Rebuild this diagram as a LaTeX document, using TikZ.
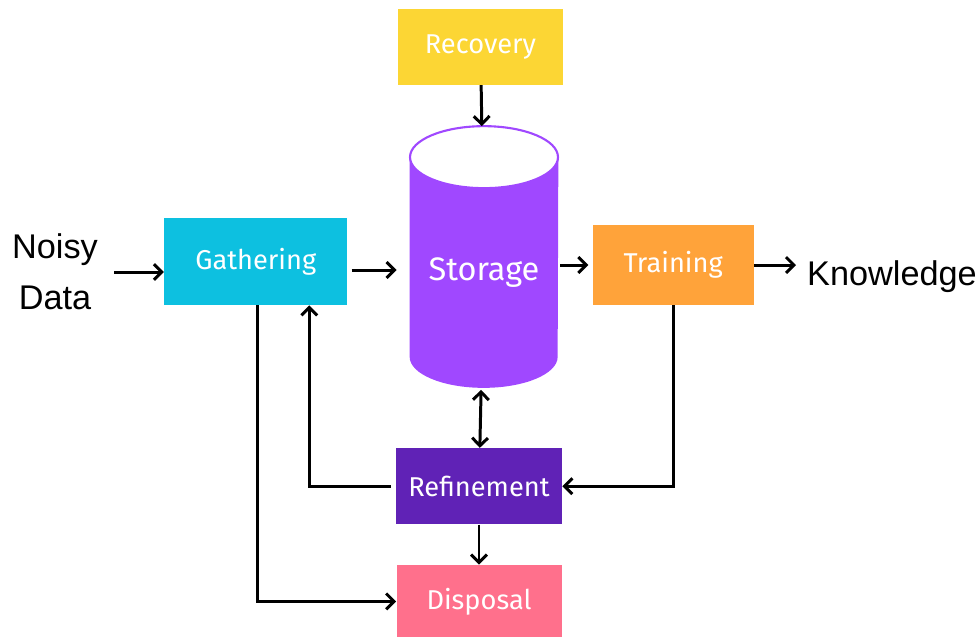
\documentclass[tikz,border=0pt]{standalone}
\usepackage{fontspec}
\setmainfont{Liberation Sans}
\newfontfamily\stagefont{Fira Sans}
\usetikzlibrary{arrows.meta, positioning, backgrounds}
\definecolor{recoveryyellow}{RGB}{252,214,52}
\definecolor{gatheringcyan}{RGB}{13,192,224}
\definecolor{storagepurple}{RGB}{160,72,255}
\definecolor{trainingorange}{RGB}{255,163,58}
\definecolor{refinementviolet}{RGB}{96,34,182}
\definecolor{disposalpink}{RGB}{255,112,140}
\tikzset{
  stage/.style={rectangle, draw=none, minimum height=1.52cm, text=white,
                font=\stagefont\fontsize{15.5}{18}\selectfont},
  storagebox/.style={rectangle, draw=none, minimum width=2.96cm, minimum height=5.22cm,
                     text height=1.05cm, text depth=0.1cm,
                     text=white, font=\stagefont\fontsize{18.5}{22}\selectfont},
  outer/.style={align=center, font=\fontsize{19.5}{29}\selectfont},
  arrow/.style={-{Straight Barb[length=4.5pt, width=9pt]}, line width=1.7pt},
  darrow/.style={{Straight Barb[length=4.5pt, width=9pt]}-{Straight Barb[length=4.5pt, width=9pt]}, line width=1.7pt},
}

\begin{document}
\begin{tikzpicture}
  \useasboundingbox (0,0) rectangle (19.56,-12.72);

  % Central store
  \node[storagebox] (storage) at (9.68,-5.14) {Storage};
  \begin{scope}[on background layer]
    \fill[storagepurple] ([yshift=-0.62cm]storage.north west) -- ([yshift=0.62cm]storage.south west)
      arc[start angle=180, end angle=360, x radius=1.48cm, y radius=0.62cm]
      -- ([yshift=-0.62cm]storage.north east) -- cycle;
    \draw[storagepurple, line width=1.2pt, fill=white] ([yshift=-0.62cm]storage.north)
      ellipse[x radius=1.48cm, y radius=0.62cm];
  \end{scope}

  % Stages round the store
  \node[stage, fill=recoveryyellow, minimum width=3.3cm, above=0.82cm of storage, xshift=-0.07cm] (recovery) {Recovery};
  \node[stage, fill=gatheringcyan, minimum width=3.66cm, minimum height=1.74cm, left=1.24cm of storage, yshift=-0.09cm] (gathering) {Gathering};
  \node[stage, fill=trainingorange, minimum width=3.22cm, minimum height=1.6cm, right=0.68cm of storage, yshift=-0.16cm] (training) {Training};
  \node[stage, fill=refinementviolet, minimum width=3.32cm, below=1.2cm of storage, xshift=-0.1cm] (refinement) {Refinement};
  \node[stage, fill=disposalpink, minimum width=3.3cm, minimum height=1.46cm, below=0.8cm of refinement] (disposal) {Disposal};

  % Input and output
  \node[outer] (noisy) at (1.1,-5.44) {Noisy\\Data};
  \node[outer, anchor=west] (knowledge) at (16.02,-5.54) {Knowledge};

  % Main flow
  \draw[arrow, shorten <=0.2cm] (noisy.east) -- (noisy.east -| gathering.west);
  \draw[arrow, shorten <=0.08cm, shorten >=0.26cm] ([yshift=-0.17cm]gathering.east) -- ([yshift=-0.17cm]gathering.east -| storage.west);
  \draw[arrow, shorten <=0.04cm, shorten >=0.08cm] (storage.east |- training.west) -- (training.west);
  \draw[arrow, shorten >=0.1cm] (training.east) -- (training.east -| knowledge.west);
  \draw[arrow] (recovery) -- (storage);
  \draw[darrow, shorten <=0.04cm] (storage) -- (refinement);
  \draw[arrow] (refinement) -- (disposal);

  % Side loops
  \draw[arrow, shorten <=0.1cm] (refinement.west) -| ([xshift=1.07cm]gathering.south);
  \draw[arrow] ([xshift=0.03cm]gathering.south) |- (disposal.west);
  \draw[arrow] (training.south) |- (refinement.east);

\end{tikzpicture}
\end{document}
